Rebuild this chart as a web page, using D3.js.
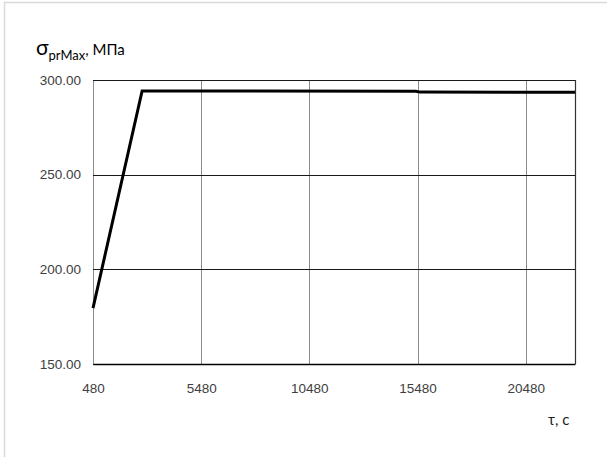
<!DOCTYPE html>
<html>
<head>
<meta charset="utf-8">
<script src="https://cdn.jsdelivr.net/npm/d3@7"></script>
<style>
  body { margin: 0; background: #fff; }
  svg { display: block; font-family: Lato, "Open Sans", sans-serif; }
</style>
</head>
<body>
<svg id="chart" width="607" height="457"></svg>
<script>
// Time, s
const times = [480, 2750, 15400, 15600, 22760];
// Maximum stress, MPa
const stress = [179.5, 294.2, 294.1, 293.6, 293.5];
const xTicks = [480, 5480, 10480, 15480, 20480];
const yTicks = [150, 200, 250, 300];

const svg = d3.select("#chart");
const margin = { left: 93, top: 80, right: 607 - 575, bottom: 457 - 364 };
const W = 607, H = 457;

const x = d3.scaleLinear().domain([480, 22760]).range([margin.left, W - margin.right]);
const y = d3.scaleLinear().domain([150, 300]).range([H - margin.bottom, margin.top]);

// outer frame
svg.append("rect").attr("x", 4.5).attr("y", 2.5).attr("width", 610).attr("height", 460)
  .attr("fill", "none").attr("stroke", "#d9d9d9").attr("stroke-width", 1.5);

// vertical grid
svg.append("g").selectAll("line").data(xTicks).join("line")
  .attr("x1", d => Math.round(x(d)) + 0.5).attr("x2", d => Math.round(x(d)) + 0.5)
  .attr("y1", y(300)).attr("y2", y(150))
  .attr("stroke", "#8c8c8c").attr("stroke-width", 1);

// horizontal grid
svg.append("g").selectAll("line").data(yTicks).join("line")
  .attr("x1", x(480)).attr("x2", x(22760))
  .attr("y1", d => Math.round(y(d)) + 0.5).attr("y2", d => Math.round(y(d)) + 0.5)
  .attr("stroke", "#1a1a1a").attr("stroke-width", 1);

// right border
svg.append("line")
  .attr("x1", Math.round(x(22760)) + 0.5).attr("x2", Math.round(x(22760)) + 0.5)
  .attr("y1", y(300)).attr("y2", y(150))
  .attr("stroke", "#333").attr("stroke-width", 1.2);

// x axis
const xAxis = d3.axisBottom(x).tickValues(xTicks).tickFormat(d3.format("d")).tickSize(0).tickPadding(19);
svg.append("g").attr("transform", `translate(0,${y(150)})`).call(xAxis)
  .call(g => g.select(".domain").attr("stroke", "#000").attr("stroke-width", 1.5))
  .call(g => g.selectAll("text").attr("font-size", 13.5).attr("fill", "#404040").attr("font-family", null));

// y axis
const yAxis = d3.axisLeft(y).tickValues(yTicks).tickFormat(d3.format(".2f")).tickSize(0).tickPadding(12);
svg.append("g").attr("transform", `translate(${x(480)},0)`).call(yAxis)
  .call(g => g.select(".domain").remove())
  .call(g => g.selectAll("text").attr("font-size", 13.5).attr("fill", "#404040").attr("font-family", null));

// data line
const line = d3.line().x((d, i) => x(times[i])).y(d => y(d));
svg.append("path").datum(stress).attr("d", line)
  .attr("fill", "none").attr("stroke", "#000").attr("stroke-width", 3)
  .attr("stroke-linejoin", "miter");

// axis titles
const yt = svg.append("text").attr("x", 36).attr("y", 55).attr("fill", "#000");
yt.append("tspan").attr("font-size", 21).text("σ");
yt.append("tspan").attr("font-size", 13).attr("dy", 5).text("prMax");
yt.append("tspan").attr("font-size", 15).attr("dy", -5).text(", МПа");

svg.append("text").attr("x", 548).attr("y", 425).attr("font-size", 15).attr("fill", "#222").text("τ, с");
</script>
</body>
</html>
